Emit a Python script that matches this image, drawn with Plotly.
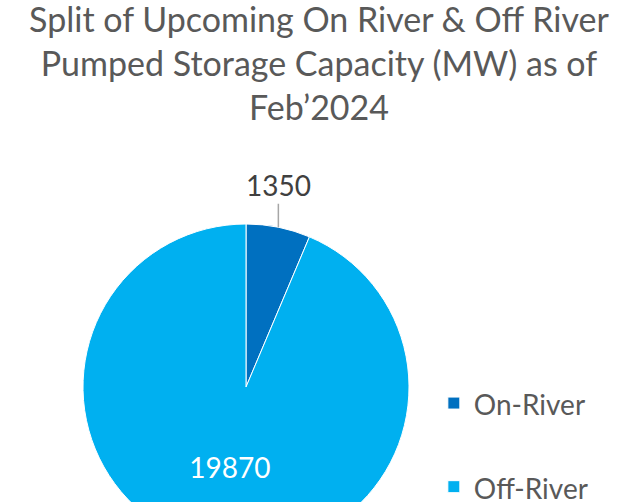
import math
import plotly.graph_objects as go

categories = ["On-River", "Off-River"]
capacity_mw = [1350, 19870]
colors = ["#0070C0", "#00B0F0"]

W, H = 638, 580
# pie centre and radius in pixels (from top-left); canvas is taller than the window so the pie is cut off
cx, cy, r = 246, 387, 163

dom_x = [(cx - r) / W, (cx + r) / W]
dom_y = [(H - cy - r) / H, (H - cy + r) / H]

# extra blank line gives the wide gap between legend entries
legend_labels = ["<span style='font-size:28px'>%s</span><br> " % c for c in categories]

fig = go.Figure(go.Pie(
    labels=legend_labels, values=capacity_mw, sort=False,
    direction="clockwise", rotation=0,
    marker=dict(colors=colors, line=dict(color="white", width=1)),
    texttemplate="%{value:.0f}", textposition=["none", "inside"],
    insidetextfont=dict(color="white", size=28, family="Lato"),
    domain=dict(x=dom_x, y=dom_y),
    hovertemplate="%{value}<extra></extra>",
))

# outside label for the small slice, with leader line from the slice edge
a = math.pi * capacity_mw[0] / sum(capacity_mw)
px = cx + r * math.sin(a)
py = cy - r * math.cos(a)
fig.add_annotation(
    x=px / W, y=1 - py / H, xref="paper", yref="paper",
    text=str(capacity_mw[0]), showarrow=True, arrowhead=0, ax=0, ay=-42,
    arrowcolor="#A6A6A6", arrowwidth=1.5,
    font=dict(size=28, color="#404040", family="Lato"),
)

fig.update_layout(
    width=W, height=H,
    margin=dict(l=0, r=0, t=0, b=0),
    paper_bgcolor="white",
    title=dict(
        text="Split of Upcoming On River & Off River<br>Pumped Storage Capacity (MW) as of<br>Feb\u20192024",
        x=0.5, xanchor="center", y=1 - 32 / H, yanchor="top",
        font=dict(size=34, color="#595959", family="Lato"),
    ),
    legend=dict(
        x=0.68, y=0.351, xanchor="left", yanchor="top",
        valign="top", font=dict(size=31, color="#595959", family="Lato"),
    ),
)

fig.write_html(
    "out.html", config={"displayModeBar": False},
    post_script="document.body.style.margin='0';document.body.style.overflow='hidden';",
)
